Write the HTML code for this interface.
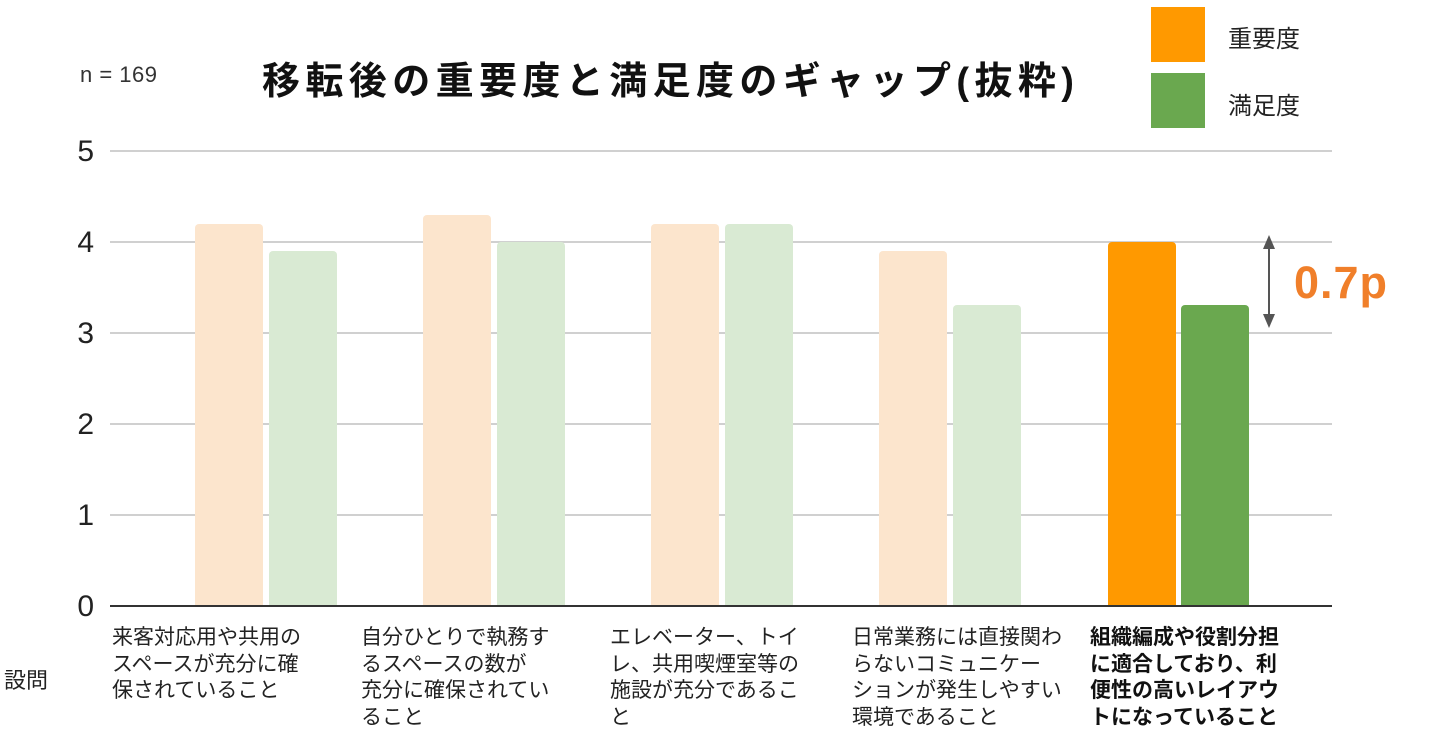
<!DOCTYPE html>
<html><head><meta charset="utf-8"><style>
body{margin:0;width:1440px;height:739px;background:#fff;position:relative;overflow:hidden;font-family:"Liberation Sans","Noto Sans CJK JP",sans-serif;color:#222}
.a{position:absolute}
.g{position:absolute;left:110px;width:1222px;height:2px;background:#d0d0d0}
.y{position:absolute;left:60px;width:34px;text-align:right;font-size:30px;line-height:30px;color:#222}
.b{position:absolute;width:68px;border-radius:4px 4px 0 0}
.l{position:absolute;top:625px;width:240px;font-size:21px;line-height:26.5px;color:#222;font-family:"Liberation Sans","Noto Sans CJK JP",sans-serif}
</style></head><body>
<div class="a" style="left:80px;top:62px;font-size:22px;color:#333;letter-spacing:0.5px">n = 169</div>
<div class="a" style="left:262px;top:50px;font-size:38px;font-weight:bold;color:#111;letter-spacing:5.4px;white-space:nowrap">移転後の重要度と満足度のギャップ(抜粋)</div>
<div class="a" style="left:1151px;top:7px;width:54px;height:55px;background:#ff9900"></div>
<div class="a" style="left:1151px;top:73px;width:54px;height:55px;background:#6aa84f"></div>
<div class="a" style="left:1228px;top:19px;font-size:24px">重要度</div>
<div class="a" style="left:1228px;top:86px;font-size:24px">満足度</div>

<div class="g" style="top:150px"></div>
<div class="g" style="top:241px"></div>
<div class="g" style="top:332px"></div>
<div class="g" style="top:423px"></div>
<div class="g" style="top:514px"></div>

<div class="y" style="top:137px">5</div>
<div class="y" style="top:228px">4</div>
<div class="y" style="top:319px">3</div>
<div class="y" style="top:410px">2</div>
<div class="y" style="top:501px">1</div>
<div class="y" style="top:592px">0</div>

<div class="b" style="left:195px;top:224px;height:382px;background:#fce5cd"></div>
<div class="b" style="left:269px;top:251px;height:355px;background:#d9ead3"></div>
<div class="b" style="left:423px;top:215px;height:391px;background:#fce5cd"></div>
<div class="b" style="left:497px;top:242px;height:364px;background:#d9ead3"></div>
<div class="b" style="left:651px;top:224px;height:382px;background:#fce5cd"></div>
<div class="b" style="left:725px;top:224px;height:382px;background:#d9ead3"></div>
<div class="b" style="left:879px;top:251px;height:355px;background:#fce5cd"></div>
<div class="b" style="left:953px;top:305px;height:301px;background:#d9ead3"></div>
<div class="b" style="left:1108px;top:242px;height:364px;background:#ff9900"></div>
<div class="b" style="left:1181px;top:305px;height:301px;background:#6aa84f"></div>

<div class="a" style="left:110px;top:605px;width:1222px;height:2px;background:#333"></div>

<svg class="a" style="left:1255px;top:230px" width="30" height="105">
<line x1="14" y1="12" x2="14" y2="90" stroke="#555" stroke-width="2"/>
<polygon points="14,5 8,19 20,19" fill="#555"/>
<polygon points="14,98 8,84 20,84" fill="#555"/>
</svg>
<div class="a" style="left:1294px;top:257px;font-size:45px;font-weight:bold;color:#f07f2a;letter-spacing:1px">0.7p</div>

<div class="a" style="left:4px;top:663px;font-size:22px">設問</div>
<div class="l" style="left:112px">来客対応用や共用の<br>スペースが充分に確<br>保されていること</div>
<div class="l" style="left:361px">自分ひとりで執務す<br>るスペースの数が<br>充分に確保されてい<br>ること</div>
<div class="l" style="left:610px">エレベーター、トイ<br>レ、共用喫煙室等の<br>施設が充分であるこ<br>と</div>
<div class="l" style="left:852px">日常業務には直接関わ<br>らないコミュニケー<br>ションが発生しやすい<br>環境であること</div>
<div class="l" style="left:1090px;font-weight:bold;color:#111">組織編成や役割分担<br>に適合しており、利<br>便性の高いレイアウ<br>トになっていること</div>
</body></html>
